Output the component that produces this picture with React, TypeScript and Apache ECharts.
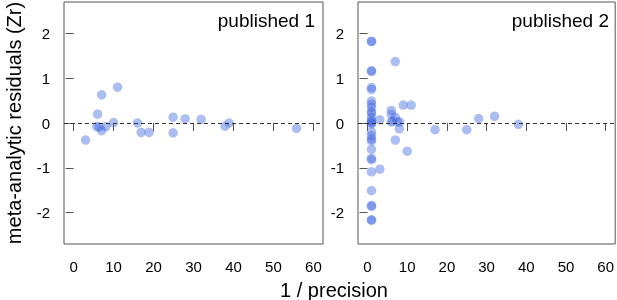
import React, { useEffect, useRef } from "react";
import * as echarts from "echarts";

// Panel 1: "published 1"
const p1X = [3.0, 6.0, 7.0, 11.0, 5.8, 6.4, 7.0, 8.1, 10.0, 16.0, 16.9, 18.9, 24.9, 24.9, 27.9, 31.9, 37.9, 38.9, 55.8];
const p1Y = [-0.38, 0.2, 0.63, 0.8, -0.08, -0.09, -0.17, -0.08, 0.01, 0.0, -0.21, -0.21, 0.13, -0.22, 0.09, 0.08, -0.07, 0.0, -0.12];

// Panel 2: "published 2"
const p2X = [
  1, 1, 1, 1, 1, 1, 1, 1, 1, 1, 1, 1, 1, 1, 1, 1, 1, 1, 1, 1, 1, 1, 1, 1, 1, 1, 1, 1, 1,
  3.1, 3.1, 6.0, 6.0, 6.0, 6.3, 7.0, 7.0, 7.5, 8.1, 8.0, 7.0, 9.0, 11.0, 10.0, 17.0, 25.0, 28.0, 32.0, 38.0,
];
const p2Y = [
  1.82, 1.82, 1.16, 1.16, 0.79, 0.75, 0.49, 0.42, 0.35, 0.25, 0.22, 0.12, 0.05, 0.03, -0.02, -0.2, -0.28,
  -0.36, -0.4, -0.59, -0.79, -0.82, -1.09, -1.51, -1.84, -1.86, -2.16, -2.17, 0.0,
  0.07, -1.03, 0.28, 0.19, 0.02, 0.05, 1.37, 0.13, 0.03, 0.02, -0.13, -0.38, 0.4, 0.4, -0.63, -0.15, -0.15, 0.1, 0.15, -0.03,
];

const xTicks = [0, 10, 20, 30, 40, 50, 60];
const yTicks = [-2, -1, 0, 1, 2];
const panelTitles = ["published 1", "published 2"];
const xTitle = "1 / precision";
const yTitle = "meta-analytic residuals (Zr)";

const FONT = "'Liberation Sans', Arial, sans-serif";

export default function App() {
  const ref = useRef<HTMLDivElement>(null);
  useEffect(() => {
    if (!ref.current) return;
    const chart = echarts.init(ref.current, null, { renderer: "svg" });
    const grids = [
      { left: 64, top: 2, width: 259, height: 242 },
      { left: 358, top: 2, width: 258, height: 242 },
    ];
    const toData = (xs: number[], ys: number[]) => xs.map((x, i) => [x, ys[i]]);
    const datasets = [toData(p1X, p1Y), toData(p2X, p2Y)];
    const option: any = {
      animation: false,
      grid: grids.map((g) => ({
        ...g,
        show: true,
        borderColor: "#555",
        borderWidth: 1,
        backgroundColor: "transparent",
      })),
      xAxis: grids.map((_, i) => ({
        type: "value",
        gridIndex: i,
        min: -2.4,
        max: 62.4,
        axisLine: { show: false },
        splitLine: { show: false },
        axisTick: { show: true, inside: false, length: 8, lineStyle: { color: "#555" }, customValues: xTicks },
        axisLabel: { customValues: xTicks, fontSize: 15, color: "#000", margin: 15, fontFamily: FONT },
      })),
      yAxis: grids.map((_, i) => ({
        type: "value",
        gridIndex: i,
        min: -2.7,
        max: 2.7,
        axisLine: { show: false },
        splitLine: { show: false },
        axisTick: { show: true, inside: false, length: 8, lineStyle: { color: "#555" }, customValues: yTicks },
        axisLabel: { customValues: yTicks, fontSize: 15, color: "#000", margin: 14, fontFamily: FONT },
      })),
      series: datasets.map((d, i) => ({
        type: "scatter",
        xAxisIndex: i,
        yAxisIndex: i,
        data: d,
        symbol: "circle",
        symbolSize: 9.5,
        itemStyle: { color: "rgba(65,105,225,0.55)" },
        markLine: {
          silent: true,
          symbol: ["none", "none"],
          label: { show: false },
          lineStyle: { type: [4, 3], color: "#333", width: 1 },
          data: [{ yAxis: 0 }],
        },
      })),
      graphic: [
        {
          type: "text",
          x: 315,
          y: 20,
          style: { text: panelTitles[0], fontSize: 19, fontFamily: FONT, fill: "#000", textAlign: "right", textVerticalAlign: "middle" },
        },
        {
          type: "text",
          x: 609,
          y: 20,
          style: { text: panelTitles[1], fontSize: 19, fontFamily: FONT, fill: "#000", textAlign: "right", textVerticalAlign: "middle" },
        },
        {
          type: "text",
          x: 334,
          y: 290,
          style: { text: xTitle, fontSize: 20, fontFamily: FONT, fill: "#000", textAlign: "center", textVerticalAlign: "middle" },
        },
        {
          type: "text",
          x: 14,
          y: 123,
          rotation: Math.PI / 2,
          style: { text: yTitle, fontSize: 20, fontFamily: FONT, fill: "#000", textAlign: "center", textVerticalAlign: "middle" },
        },
      ],
    };
    chart.setOption(option);
    return () => chart.dispose();
  }, []);
  return <div ref={ref} style={{ position: "fixed", left: 0, top: 0, width: 617, height: 300 }} />;
}
